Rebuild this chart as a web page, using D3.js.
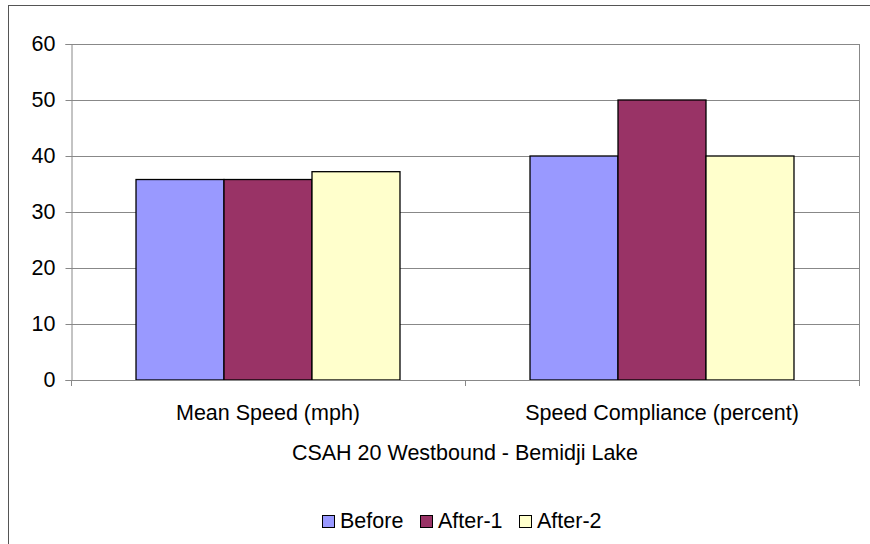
<!DOCTYPE html>
<html>
<head>
<meta charset="utf-8">
<script src="https://cdn.jsdelivr.net/npm/d3@7"></script>
<style>
  body { margin: 0; background: #fff; overflow: hidden; }
  svg text { font-family: "Liberation Sans", Arial, sans-serif; fill: #000; }
</style>
</head>
<body>
<div id="chart-container"></div>
<script>
const categories = ['Mean Speed (mph)', 'Speed Compliance (percent)'];
const seriesNames = ['Before', 'After-1', 'After-2'];
const seriesColors = ['#9999ff', '#993366', '#ffffcc'];
const beforeValues = [35.8, 40];
const after1Values = [35.8, 50];
const after2Values = [37.2, 40];
const yTicks = [0, 10, 20, 30, 40, 50, 60];
const axisTitle = 'CSAH 20 Westbound - Bemidji Lake';

const seriesValues = [beforeValues, after1Values, after2Values];
const rows = categories.map((cat, i) => ({
  cat,
  values: seriesNames.map((name, s) => ({ name, value: seriesValues[s][i] }))
}));

const width = 870, height = 544;
const plot = { left: 71, top: 44, right: 859, bottom: 380 };
const fontSize = '21.5px';

const svg = d3.select('#chart-container').append('svg')
  .attr('width', width).attr('height', height)
  .style('display', 'block');

// outer frame, runs off the right and bottom edges
svg.append('rect')
  .attr('x', 8.5).attr('y', 5.5)
  .attr('width', width + 50).attr('height', height + 50)
  .attr('fill', 'none').attr('stroke', '#555').attr('stroke-width', 1);

const y = d3.scaleLinear().domain([0, 60]).range([plot.bottom, plot.top]);
// Excel style gap width: about 1.5 bar widths between groups
const x0 = d3.scaleBand().domain(categories).range([plot.left, plot.right])
  .paddingInner(0.33).paddingOuter(0.165);
const x1 = d3.scaleBand().domain(seriesNames).range([0, x0.bandwidth()]);

// gridlines
svg.append('g').selectAll('line').data(yTicks.slice(1)).enter().append('line')
  .attr('x1', plot.left).attr('x2', plot.right)
  .attr('y1', d => Math.round(y(d)) + 0.5).attr('y2', d => Math.round(y(d)) + 0.5)
  .attr('stroke', '#888');

// plot frame right side
svg.append('line')
  .attr('x1', plot.right + 0.5).attr('x2', plot.right + 0.5)
  .attr('y1', plot.top).attr('y2', plot.bottom)
  .attr('stroke', '#888');

// bars
const groups = svg.append('g').selectAll('g').data(rows).enter().append('g')
  .attr('transform', d => `translate(${x0(d.cat)},0)`);

groups.selectAll('rect').data(d => d.values).enter().append('rect')
  .attr('x', d => x1(d.name))
  .attr('y', d => y(d.value))
  .attr('width', x1.bandwidth())
  .attr('height', d => y(0) - y(d.value))
  .attr('fill', (d, i) => seriesColors[i])
  .attr('stroke', '#000').attr('stroke-width', 1.3);

// y axis
const yAxis = d3.axisLeft(y).tickValues(yTicks).tickSize(6).tickPadding(10);
const yg = svg.append('g').attr('transform', `translate(${plot.left + 0.5},0)`).call(yAxis);
yg.select('.domain').attr('stroke', '#888');
yg.selectAll('.tick line').attr('stroke', '#888');
yg.selectAll('.tick text').style('font-size', fontSize);

// x axis
const xTickPos = [plot.left, (plot.left + plot.right) / 2, plot.right];
const xg = svg.append('g');
xg.append('line')
  .attr('x1', plot.left).attr('x2', plot.right + 1)
  .attr('y1', plot.bottom + 0.5).attr('y2', plot.bottom + 0.5)
  .attr('stroke', '#888');
xg.selectAll('.xt').data(xTickPos).enter().append('line')
  .attr('x1', d => Math.round(d) + 0.5).attr('x2', d => Math.round(d) + 0.5)
  .attr('y1', plot.bottom).attr('y2', plot.bottom + 6)
  .attr('stroke', '#888');
xg.selectAll('text').data(categories).enter().append('text')
  .attr('x', d => x0(d) + x0.bandwidth() / 2)
  .attr('y', 420)
  .attr('text-anchor', 'middle')
  .style('font-size', fontSize)
  .text(d => d);

svg.append('text')
  .attr('x', (plot.left + plot.right) / 2)
  .attr('y', 460)
  .attr('text-anchor', 'middle')
  .style('font-size', fontSize)
  .text(axisTitle);

// legend
const legendX = [322, 420, 519];
const legend = svg.append('g').selectAll('g').data(seriesNames).enter().append('g')
  .attr('transform', (d, i) => `translate(${legendX[i]},515)`);
legend.append('rect')
  .attr('x', 0.5).attr('y', 0.5).attr('width', 12).attr('height', 12)
  .attr('fill', (d, i) => seriesColors[i])
  .attr('stroke', '#000').attr('stroke-width', 1);
legend.append('text')
  .attr('x', 18).attr('y', 12.5)
  .style('font-size', fontSize)
  .text(d => d);
</script>
</body>
</html>
